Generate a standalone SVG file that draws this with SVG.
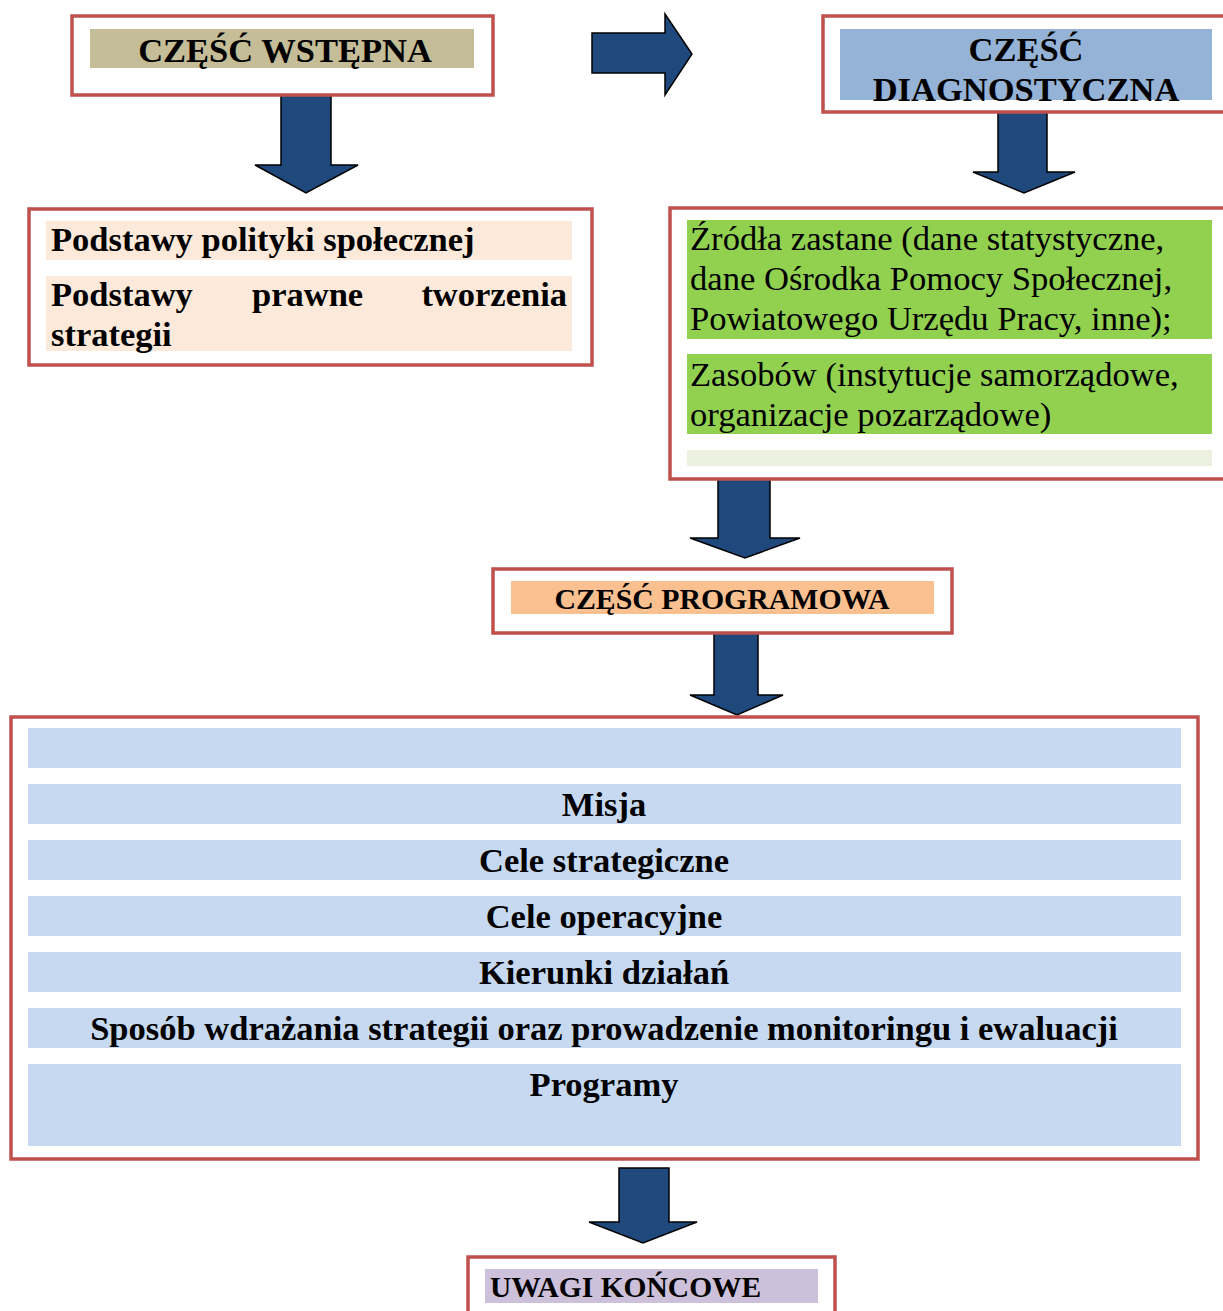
<svg xmlns="http://www.w3.org/2000/svg" width="1223" height="1311" viewBox="0 0 1223 1311">
<style>
.frame{fill:#fff;stroke:#C0504D;stroke-width:3.5}
.arr{fill:#1F497D;stroke:#000;stroke-width:1.5;stroke-linejoin:miter}
.b{font-family:"Liberation Serif","Times New Roman",serif;font-weight:bold;fill:#000;font-size:34.5px}
.r{font-family:"Liberation Serif","Times New Roman",serif;fill:#000;font-size:34.6px}
.row{fill:#C6D9F1}
</style>
<rect width="1223" height="1311" fill="#fff"/>
<g id="connectors">
<path class="arr" d="M281,95 H331 V165 H358 L306,193 L255,165 H281 Z"/>
<path class="arr" d="M592,33 H665 V14 L692,54 L665,95 V73 H592 Z"/>
<path class="arr" d="M998,112 H1047 V172 H1075 L1024,193 L973,172 H998 Z"/>
<path class="arr" d="M718,479 H770 V538 H800 L745,558 L690,538 H718 Z"/>
<path class="arr" d="M714,633 H758 V695 H783 L737,715 L690,695 H714 Z"/>
<path class="arr" d="M619,1168 H669 V1222 H697 L643,1243 L589,1222 H619 Z"/>
</g>
<g id="wstepna">
<rect class="frame" x="72" y="16" width="421" height="79"/>
<rect x="90" y="29" width="384" height="39" fill="#C4BD97"/>
<text class="b" x="285" y="62" text-anchor="middle">CZĘŚĆ WSTĘPNA</text>
</g>
<g id="diagnostyczna">
<rect class="frame" x="823" y="16" width="410" height="96"/>
<rect x="840" y="29" width="372" height="71" fill="#95B3D7"/>
<text class="b" x="1026" y="61" text-anchor="middle">CZĘŚĆ</text>
<text class="b" x="1026" y="101" text-anchor="middle">DIAGNOSTYCZNA</text>
</g>
<g id="podstawy">
<rect class="frame" x="29" y="209" width="563" height="156"/>
<rect x="46" y="221" width="526" height="39" fill="#FDE9D9"/>
<rect x="46" y="276" width="526" height="75" fill="#FDE9D9"/>
<text class="b" x="51" y="251">Podstawy polityki społecznej</text>
<text class="b" y="306"><tspan x="51">Podstawy</tspan><tspan x="252">prawne</tspan><tspan x="567" text-anchor="end">tworzenia</tspan></text>
<text class="b" x="51" y="346">strategii</text>
</g>
<g id="zrodla">
<rect class="frame" x="670" y="208" width="563" height="271"/>
<rect x="687" y="220" width="525" height="119" fill="#92D050"/>
<rect x="687" y="354" width="525" height="80" fill="#92D050"/>
<rect x="687" y="450" width="525" height="16" fill="#EBF1DE"/>
<text class="r" x="690" y="250">Źródła zastane (dane statystyczne,</text>
<text class="r" x="690" y="290">dane Ośrodka Pomocy Społecznej,</text>
<text class="r" x="690" y="330">Powiatowego Urzędu Pracy, inne);</text>
<text class="r" x="690" y="386">Zasobów (instytucje samorządowe,</text>
<text class="r" x="690" y="426">organizacje pozarządowe)</text>
</g>
<g id="programowa">
<rect class="frame" x="493" y="569" width="459" height="64"/>
<rect x="511" y="581" width="423" height="33" fill="#FAC090"/>
<text class="b" x="722" y="609" style="font-size:29.8px" text-anchor="middle">CZĘŚĆ PROGRAMOWA</text>
</g>
<g id="elementy">
<rect class="frame" x="11" y="717" width="1187" height="442"/>
<rect class="row" x="28" y="728" width="1153" height="40"/>
<rect class="row" x="28" y="784" width="1153" height="40"/>
<rect class="row" x="28" y="840" width="1153" height="40"/>
<rect class="row" x="28" y="896" width="1153" height="40"/>
<rect class="row" x="28" y="952" width="1153" height="40"/>
<rect class="row" x="28" y="1008" width="1153" height="40"/>
<rect class="row" x="28" y="1064" width="1153" height="82"/>
<text class="b" x="604" y="816" text-anchor="middle">Misja</text>
<text class="b" x="604" y="872" text-anchor="middle">Cele strategiczne</text>
<text class="b" x="604" y="928" text-anchor="middle">Cele operacyjne</text>
<text class="b" x="604" y="984" text-anchor="middle">Kierunki działań</text>
<text class="b" x="604" y="1040" text-anchor="middle">Sposób wdrażania strategii oraz prowadzenie monitoringu i ewaluacji</text>
<text class="b" x="604" y="1096" text-anchor="middle">Programy</text>
</g>
<g id="uwagi">
<rect class="frame" x="468" y="1257" width="367" height="70"/>
<rect x="485" y="1269" width="333" height="34" fill="#CCC0DA"/>
<text class="b" x="490" y="1297" style="font-size:29.5px">UWAGI KOŃCOWE</text>
</g>
</svg>
